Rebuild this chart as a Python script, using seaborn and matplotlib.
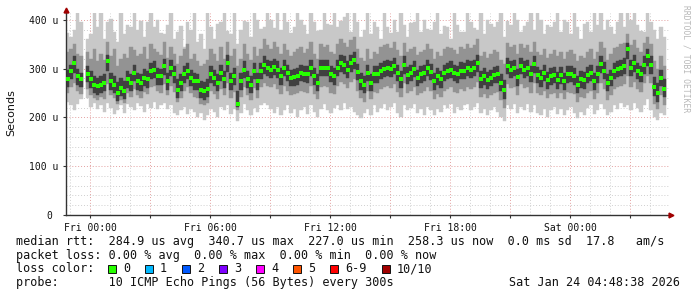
import numpy as np
import pandas as pd
import matplotlib
matplotlib.use("Agg")
import matplotlib.pyplot as plt
import seaborn as sns
from matplotlib.ticker import MultipleLocator, FixedLocator, FuncFormatter
from matplotlib.patches import Rectangle

nan = np.nan

# ---- data: 10-minute bins from Thu 22:48 (hours relative to Fri 00:00) ----
START_H = -1.2
STEP_H = 1 / 6

median = [
    279, 295, 312, 284, 278, nan, 290, 278, 267, 264,
    267, 271, 315, 274, 267, 250, 261, 254, 278, 271,
    291, 274, 271, 281, 278, 295, 298, 284, 284, 305,
    274, 301, 288, 257, 271, 288, 295, 281, 274, 274,
    257, 254, 259, 288, 281, 271, 291, 278, 312, 274,
    284, 228, 274, 298, 278, 267, 295, 274, 295, 308,
    301, 298, 303, 298, 284, 301, 291, 281, 282, 284,
    291, 289, 288, 301, 284, 271, 301, 301, 301, 289,
    284, 301, 312, 308, 298, 312, 318, 293, 274, 267,
    291, 271, 288, 288, 295, 299, 302, 299, 305, 291,
    278, 308, 286, 291, 299, 281, 288, 291, 301, 293,
    274, 284, 278, 291, 295, 298, 291, 288, 296, 295,
    301, 298, 301, 312, 278, 284, 276, 281, 287, 288,
    271, 257, 305, 298, 301, 282, 305, 298, 301, 289,
    310, 287, 280, 291, 276, 284, 287, 276, 286, 274,
    288, 289, 284, 267, 278, 276, 287, 291, 274, 288,
    310, 296, 271, 281, 295, 299, 302, 305, 340, 301,
    312, 295, 289, 308, 325, 308, 262, 250, 281, 258,
]

ping_max = [
    372, 365, 380, 414, 395, nan, 360, 370, 414, 385,
    414, 360, 395, 402, 375, 355, 414, 370, 390, 385,
    414, 380, 398, 365, 395, 414, 385, 400, 372, 370,
    390, 414, 360, 375, 388, 345, 395, 380, 414, 355,
    370, 340, 414, 385, 360, 392, 395, 414, 378, 370,
    414, 350, 380, 398, 395, 365, 414, 400, 382, 385,
    414, 400, 384, 414, 380, 414, 395, 372, 385, 414,
    400, 390, 370, 414, 395, 378, 380, 414, 392, 390,
    414, 385, 398, 405, 414, 375, 414, 395, 365, 380,
    414, 370, 395, 386, 360, 414, 385, 372, 400, 375,
    414, 390, 365, 394, 395, 414, 375, 400, 382, 380,
    395, 414, 370, 388, 385, 360, 414, 390, 376, 375,
    414, 395, 384, 380, 414, 370, 400, 392, 385, 395,
    414, 365, 398, 390, 414, 400, 375, 388, 395, 414,
    380, 414, 400, 370, 390, 385, 395, 414, 375, 400,
    395, 370, 414, 385, 360, 392, 395, 375, 414, 390,
    414, 380, 400, 386, 370, 395, 414, 385, 414, 400,
    414, 390, 378, 375, 414, 395, 380, 360, 385, 365,
]

ping_min = [
    232, 225, 215, 228, 238, nan, 240, 222, 230, 218,
    226, 212, 230, 220, 208, 215, 225, 210, 228, 222,
    215, 230, 224, 212, 228, 220, 232, 218, 225, 230,
    218, 225, 210, 205, 215, 222, 208, 218, 212, 200,
    210, 195, 205, 218, 212, 200, 222, 215, 225, 208,
    218, 192, 210, 228, 215, 205, 220, 212, 225, 230,
    225, 218, 210, 222, 205, 215, 225, 210, 218, 200,
    215, 222, 208, 225, 212, 200, 218, 228, 215, 210,
    220, 225, 215, 230, 218, 222, 212, 205, 198, 210,
    218, 205, 225, 212, 220, 228, 215, 222, 230, 210,
    200, 225, 215, 220, 228, 210, 218, 205, 222, 215,
    205, 218, 212, 225, 220, 228, 210, 222, 215, 225,
    228, 215, 222, 230, 210, 218, 205, 215, 222, 212,
    200, 192, 225, 218, 228, 210, 222, 215, 228, 212,
    225, 210, 205, 218, 200, 215, 222, 208, 218, 205,
    215, 222, 210, 198, 212, 205, 220, 225, 208, 215,
    228, 218, 205, 212, 225, 218, 230, 222, 225, 215,
    230, 220, 212, 225, 238, 215, 200, 195, 210, 205,
]

mid_hi = [
    335, 340, 350, 330, 325, nan, 335, 320, 340, 315,
    330, 318, 355, 325, 340, 305, 320, 330, 322, 345,
    338, 325, 330, 345, 320, 350, 340, 335, 328, 355,
    322, 345, 330, 310, 325, 340, 350, 320, 330, 315,
    305, 310, 318, 340, 330, 315, 345, 320, 355, 325,
    340, 305, 320, 350, 330, 318, 345, 325, 340, 360,
    348, 340, 355, 345, 330, 350, 338, 325, 335, 340,
    345, 332, 340, 355, 330, 320, 350, 345, 348, 335,
    330, 350, 360, 352, 345, 358, 365, 340, 322, 315,
    340, 320, 335, 330, 345, 348, 350, 342, 355, 338,
    325, 352, 335, 340, 345, 328, 335, 338, 350, 340,
    320, 335, 325, 340, 345, 342, 338, 330, 345, 340,
    350, 342, 348, 360, 325, 335, 322, 330, 338, 335,
    318, 310, 352, 345, 348, 330, 350, 342, 348, 335,
    355, 335, 328, 340, 322, 330, 338, 325, 335, 320,
    335, 338, 330, 315, 325, 322, 335, 340, 320, 335,
    355, 342, 318, 330, 342, 345, 350, 352, 370, 348,
    358, 342, 335, 352, 365, 350, 315, 300, 325, 305,
]

mid_lo = [
    250, 262, 270, 255, 248, nan, 258, 245, 240, 235,
    242, 238, 268, 245, 240, 228, 235, 230, 250, 242,
    258, 245, 240, 252, 248, 262, 265, 255, 250, 268,
    245, 265, 252, 232, 240, 255, 262, 250, 242, 240,
    228, 225, 230, 255, 248, 238, 258, 245, 270, 240,
    252, 215, 242, 262, 245, 235, 260, 240, 262, 270,
    265, 262, 268, 258, 248, 265, 255, 245, 248, 250,
    255, 252, 250, 265, 248, 238, 262, 265, 262, 250,
    248, 265, 272, 268, 260, 272, 278, 255, 240, 232,
    255, 238, 252, 250, 258, 262, 265, 260, 268, 252,
    242, 270, 250, 255, 262, 245, 250, 255, 262, 255,
    238, 248, 242, 255, 258, 262, 252, 250, 258, 255,
    262, 258, 262, 272, 242, 248, 240, 245, 250, 252,
    235, 220, 268, 260, 262, 245, 268, 260, 262, 250,
    270, 250, 245, 255, 240, 248, 250, 240, 250, 238,
    252, 250, 248, 232, 242, 240, 250, 255, 238, 250,
    270, 258, 235, 245, 258, 262, 265, 268, 285, 262,
    272, 258, 252, 270, 285, 270, 228, 218, 245, 225,
]

core_hi = [
    298, 308, 325, 300, 292, nan, 305, 295, 285, 280,
    285, 290, 328, 292, 284, 272, 280, 275, 295, 290,
    308, 292, 290, 300, 295, 312, 315, 302, 300, 320,
    292, 318, 305, 278, 290, 305, 312, 298, 292, 290,
    275, 272, 278, 305, 298, 290, 308, 295, 328, 292,
    302, 255, 292, 315, 296, 285, 312, 292, 312, 325,
    318, 315, 320, 315, 302, 318, 308, 298, 300, 302,
    308, 306, 305, 318, 302, 290, 318, 318, 318, 306,
    302, 318, 328, 325, 315, 328, 335, 310, 292, 285,
    308, 290, 305, 305, 312, 316, 318, 316, 322, 308,
    296, 325, 303, 308, 316, 298, 305, 308, 318, 310,
    292, 302, 296, 308, 312, 315, 308, 305, 313, 312,
    318, 315, 318, 328, 296, 302, 294, 298, 304, 305,
    290, 276, 322, 315, 318, 300, 322, 315, 318, 306,
    326, 304, 298, 308, 294, 302, 304, 294, 303, 292,
    305, 306, 302, 285, 296, 294, 304, 308, 292, 305,
    326, 313, 290, 298, 312, 316, 318, 322, 352, 318,
    328, 312, 306, 325, 340, 325, 282, 270, 298, 278,
]

core_lo = [
    262, 278, 292, 266, 262, nan, 272, 260, 250, 246,
    250, 254, 296, 256, 250, 234, 244, 238, 260, 254,
    274, 256, 254, 264, 260, 278, 280, 266, 266, 286,
    256, 284, 270, 240, 254, 270, 278, 264, 256, 256,
    240, 236, 242, 270, 264, 254, 274, 260, 294, 256,
    266, 222, 256, 280, 260, 250, 278, 256, 278, 290,
    284, 280, 286, 280, 266, 284, 274, 264, 264, 266,
    274, 272, 270, 284, 266, 254, 284, 284, 284, 272,
    266, 284, 294, 290, 280, 294, 300, 276, 256, 250,
    274, 254, 270, 270, 278, 282, 284, 282, 288, 274,
    260, 290, 268, 274, 282, 264, 270, 274, 284, 276,
    256, 266, 260, 274, 278, 280, 274, 270, 278, 278,
    284, 280, 284, 294, 260, 266, 258, 264, 270, 270,
    254, 238, 288, 280, 284, 264, 288, 280, 284, 272,
    292, 270, 262, 274, 258, 266, 270, 258, 268, 256,
    270, 272, 266, 250, 260, 258, 270, 274, 256, 270,
    292, 278, 254, 264, 278, 282, 284, 288, 320, 284,
    294, 278, 272, 290, 306, 290, 244, 232, 264, 242,
]

y_ticks = [0, 100, 200, 300, 400]
y_tick_labels = ["0 ", "100 u", "200 u", "300 u", "400 u"]
loss_labels = ["0", "1", "2", "3", "4", "5", "6-9", "10/10"]
loss_colors = ["#26ff00", "#00b8ff", "#0059ff", "#7e00ff",
               "#ff00ff", "#ff5500", "#ff0000", "#a10000"]
legend_lines = [
    "median rtt:  284.9 us avg  340.7 us max  227.0 us min  258.3 us now  0.0 ms sd  17.8   am/s",
    "packet loss: 0.00 % avg  0.00 % max  0.00 % min  0.00 % now",
    "loss color:",
    "probe:       10 ICMP Echo Pings (56 Bytes) every 300s",
]
stamp = "Sat Jan 24 04:48:38 2026"

# ---- figure ----
plt.rcParams["font.family"] = ["DejaVu Sans Mono"]
W, H = 697, 297
fig = plt.figure(figsize=(W / 100, H / 100), dpi=100)
fig.patch.set_facecolor("white")
ax = fig.add_axes([66 / W, 1 - 215 / H, 603 / W, 202 / H])
ax.set_facecolor("white")

n = len(median)
t_left = START_H + np.arange(n) * STEP_H
bands = [
    (np.array(ping_min, float), np.array(ping_max, float), "#c8c8c8"),
    (np.array(mid_lo, float), np.array(mid_hi, float), "#939393"),
    (np.array(core_lo, float), np.array(core_hi, float), "#404040"),
]
for lo, hi, col in bands:
    ax.bar(t_left, hi - lo, bottom=lo, width=STEP_H, align="edge",
           color=col, edgecolor=col, linewidth=0.3, zorder=2)

df = pd.DataFrame({"t": t_left + STEP_H / 2, "median": median})
sns.scatterplot(data=df, x="t", y="median", marker="s", s=6, color="#26ff00",
                linewidth=0, ax=ax, legend=False, zorder=5)

ax.set_xlim(START_H, 28.95)
ax.set_ylim(0, 414)
ax.set_xlabel("")
ax.set_ylabel("")

ax.xaxis.set_major_locator(MultipleLocator(3))
ax.xaxis.set_minor_locator(MultipleLocator(1))


def xfmt(h, pos):
    h = int(round(h))
    if h % 6 != 0:
        return ""
    day = "Fri" if h < 24 else "Sat"
    return f"{day} {h % 24:02d}:00"


ax.xaxis.set_major_formatter(FuncFormatter(xfmt))
ax.yaxis.set_major_locator(FixedLocator(y_ticks))
ax.set_yticklabels(y_tick_labels)
ax.yaxis.set_minor_locator(MultipleLocator(20))

ax.grid(which="minor", color="#cfcfcf", linestyle=(0, (1, 2)), linewidth=0.7)
ax.grid(which="major", color="#e3a0a0", linestyle=(0, (1, 2)), linewidth=0.7)
ax.set_axisbelow(True)

ax.tick_params(axis="both", which="major", length=2.5, width=0.8, color="#333333",
               labelsize=7, pad=3, labelcolor="#111111")
ax.tick_params(axis="both", which="minor", length=0)
for s in ["top", "right"]:
    ax.spines[s].set_visible(False)
for s in ["left", "bottom"]:
    ax.spines[s].set_color("#333333")
    ax.spines[s].set_linewidth(1.0)

# axis arrows
ax.plot([START_H], [420], marker="^", color="#a00000", markersize=3.5,
        clip_on=False, zorder=10)
ax.plot([START_H, START_H], [414, 420], color="#333333", lw=1.0, clip_on=False)
ax.plot([29.05], [0], marker=">", color="#a00000", markersize=3.5,
        clip_on=False, zorder=10)

# y label and watermark
fig.text(11 / W, 1 - 113 / H, "Seconds", rotation=90, ha="center", va="center",
         fontsize=8, family="DejaVu Sans", color="#111111")
fig.text(686 / W, 1 - 59 / H, "RRDTOOL / TOBI OETIKER", rotation=270,
         ha="center", va="center", fontsize=5.8, family="DejaVu Sans Mono",
         color="#b8b8b8")

# legend text
line_y = [241.5, 255.3, 269.0, 282.8]
for txt, yy in zip(legend_lines, line_y):
    fig.text(16 / W, 1 - yy / H, txt, ha="left", va="center", fontsize=8.5,
             family="DejaVu Sans Mono", color="#111111")
fig.text(680 / W, 1 - line_y[3] / H, stamp, ha="right", va="center",
         fontsize=8.5, family="DejaVu Sans Mono", color="#111111")

sq_x = [108, 145, 182, 219, 256, 293, 330, 382]
for x0, lab, col in zip(sq_x, loss_labels, loss_colors):
    fig.patches.append(Rectangle((x0 / W, 1 - 273 / H), 8 / W, 8 / H,
                                 transform=fig.transFigure, facecolor=col,
                                 edgecolor="#111111", linewidth=0.7))
    fig.text((x0 + 15) / W, 1 - line_y[2] / H, lab, ha="left", va="center",
             fontsize=8.5, family="DejaVu Sans Mono", color="#111111")

fig.savefig("out.png", dpi=100, facecolor="white")
